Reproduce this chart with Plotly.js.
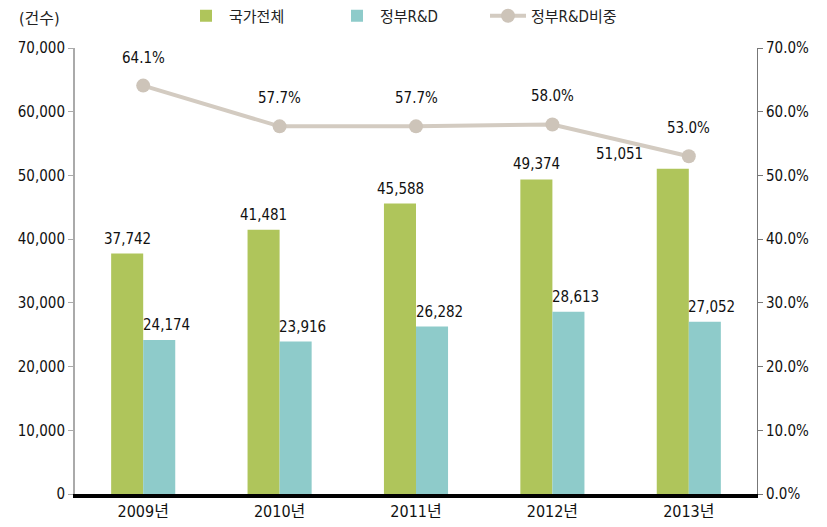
<!DOCTYPE html>
<html>
<head>
<meta charset="utf-8">
<script src="https://cdn.plot.ly/plotly-3.0.1.min.js"></script>
<style>html,body{margin:0;padding:0;background:#fff;}#chart{width:827px;height:527px;}</style>
</head>
<body>
<div id="chart"></div>
<script>
const categories = ['2009년', '2010년', '2011년', '2012년', '2013년'];
const totalCounts = [37742, 41481, 45588, 49374, 51051];
const govCounts = [24174, 23916, 26282, 28613, 27052];
const govShare = [0.641, 0.577, 0.577, 0.580, 0.530];
const seriesNames = ['국가전체', '정부R&D', '정부R&D비중'];
const unitLabel = '(건수)';

const FONT = '"DejaVu Sans Condensed", "Liberation Sans Narrow", "Noto Sans CJK KR", sans-serif';
const fmt = v => v.toLocaleString('en-US');
const SZ = 15;

const annotations = [];
categories.forEach((c, i) => {
  annotations.push({
    x: c, y: totalCounts[i], xref: 'x', yref: 'y',
    text: fmt(totalCounts[i]), showarrow: false,
    xshift: i === categories.length - 1 ? -69 : -16, yshift: 4,
    yanchor: 'bottom', font: {family: FONT, size: SZ, color: '#111'}
  });
  annotations.push({
    x: c, y: govCounts[i], xref: 'x', yref: 'y',
    text: fmt(govCounts[i]), showarrow: false,
    xshift: 23, yshift: 4,
    yanchor: 'bottom', font: {family: FONT, size: SZ, color: '#111'}
  });
  annotations.push({
    x: c, y: govShare[i], xref: 'x', yref: 'y2',
    text: (govShare[i] * 100).toFixed(1) + '%', showarrow: false,
    yshift: 17, yanchor: 'bottom', font: {family: FONT, size: SZ, color: '#111'}
  });
});
annotations.push({
  x: -0.085, y: 1.067, xref: 'paper', yref: 'paper',
  xanchor: 'left', yanchor: 'middle',
  text: unitLabel, showarrow: false, font: {family: FONT, size: 16, color: '#222'}
});

const data = [
  {type: 'bar', name: seriesNames[0], x: categories, y: totalCounts,
   marker: {color: '#afc55b'}, hoverinfo: 'none'},
  {type: 'bar', name: seriesNames[1], x: categories, y: govCounts,
   marker: {color: '#8ecbca'}, hoverinfo: 'none'},
  {type: 'scatter', mode: 'lines+markers', name: seriesNames[2], x: categories, y: govShare,
   yaxis: 'y2', line: {color: '#d3cbc1', width: 4},
   marker: {color: '#cdc4b9', size: 14}, hoverinfo: 'none'}
];

const layout = {
  width: 827, height: 527,
  margin: {l: 75, r: 70, t: 48, b: 33, autoexpand: false},
  paper_bgcolor: '#fff', plot_bgcolor: '#fff',
  barmode: 'group', bargap: 0.53, bargroupgap: 0,
  showlegend: true,
  legend: {orientation: 'h', xref: 'container', yref: 'container',
    x: 183 / 827, y: 1 - 16 / 527, xanchor: 'left', yanchor: 'middle',
    entrywidth: 100, entrywidthmode: 'pixels',
    font: {family: FONT, size: 15, color: '#222'}, itemwidth: 36},
  font: {family: FONT, size: SZ, color: '#111'},
  xaxis: {
    type: 'category', showgrid: false, zeroline: false,
    showline: true, linecolor: '#000', linewidth: 4,
    ticks: '', tickfont: {family: FONT, size: 16, color: '#111'}
  },
  yaxis: {
    range: [0, 70000], dtick: 10000, tickformat: ',d',
    showgrid: false, zeroline: false, showline: true, linecolor: '#aaa', linewidth: 2,
    ticks: 'outside', ticklen: 5, tickcolor: '#aaa', tickwidth: 1,
    tickfont: {family: FONT, size: SZ, color: '#111'}
  },
  yaxis2: {
    overlaying: 'y', side: 'right', range: [0, 0.7], dtick: 0.1, tickformat: '.1%',
    showgrid: false, zeroline: false, showline: true, linecolor: '#777', linewidth: 1,
    ticks: 'outside', ticklen: 5, tickcolor: '#777',
    tickfont: {family: FONT, size: SZ, color: '#111'}
  },
  annotations: annotations
};

Plotly.newPlot('chart', data, layout, {displayModeBar: false, staticPlot: true});
</script>
</body>
</html>
